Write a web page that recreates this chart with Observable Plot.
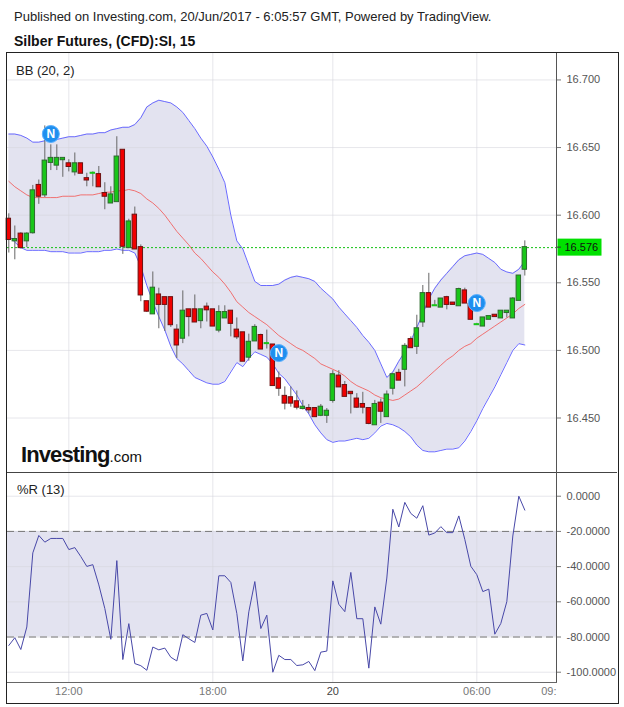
<!DOCTYPE html>
<html>
<head>
<meta charset="utf-8">
<script src="https://cdn.jsdelivr.net/npm/d3@7"></script>
<script src="https://cdn.jsdelivr.net/npm/@observablehq/plot@0.6"></script>
<style>
  body { margin: 0; background: #fff; font-family: "Liberation Sans", Arial, sans-serif; }
  #wrap { position: relative; width: 624px; height: 707px; overflow: hidden; background: #fff; }
  .abs { position: absolute; }
  .line { position: absolute; pointer-events: none; }
</style>
</head>
<body>
<div id="wrap"></div>
<script>
// ---- Data (15-minute candles, Silver futures, 19-20 June 2017) ----
const opens = [16.597,16.581,16.586,16.581,16.587,16.622,16.615,16.639,16.637,16.641,
  16.638,16.632,16.638,16.627,16.631,16.630,16.616,16.609,16.610,16.648,
  16.576,16.600,16.576,16.536,16.527,16.541,16.539,16.539,16.515,16.509,
  16.530,16.530,16.522,16.532,16.530,16.515,16.524,16.529,16.515,16.513,
  16.495,16.507,16.511,16.505,16.504,16.479,16.466,16.465,16.462,16.457,
  16.457,16.457,16.452,16.452,16.463,16.481,16.474,16.469,16.464,16.460,
  16.457,16.445,16.461,16.451,16.472,16.483,16.486,16.508,16.503,16.521,
  16.542,16.533,16.532,16.539,16.535,16.533,16.544,16.534,16.519,16.518,
  16.523,16.526,16.524,16.528,16.524,16.537,16.560];
const highs = [16.601,16.592,16.587,16.587,16.622,16.626,16.666,16.652,16.652,16.642,
  16.641,16.646,16.638,16.631,16.632,16.636,16.624,16.621,16.658,16.648,
  16.597,16.606,16.578,16.536,16.558,16.546,16.539,16.539,16.519,16.544,
  16.530,16.541,16.530,16.535,16.530,16.533,16.533,16.529,16.524,16.513,
  16.512,16.519,16.512,16.515,16.504,16.484,16.473,16.473,16.470,16.463,
  16.460,16.457,16.460,16.457,16.485,16.485,16.477,16.469,16.468,16.469,
  16.457,16.463,16.464,16.470,16.483,16.486,16.505,16.510,16.526,16.548,
  16.557,16.537,16.538,16.540,16.535,16.546,16.546,16.535,16.520,16.524,
  16.525,16.526,16.529,16.529,16.539,16.555,16.581];
const lows = [16.572,16.567,16.575,16.576,16.586,16.608,16.613,16.633,16.633,16.628,
  16.632,16.629,16.631,16.621,16.621,16.621,16.604,16.609,16.610,16.571,
  16.576,16.575,16.536,16.528,16.527,16.516,16.514,16.517,16.494,16.505,
  16.510,16.521,16.516,16.521,16.518,16.513,16.524,16.510,16.508,16.492,
  16.492,16.507,16.501,16.501,16.474,16.466,16.456,16.458,16.456,16.456,
  16.453,16.451,16.451,16.446,16.461,16.473,16.466,16.453,16.457,16.453,
  16.445,16.445,16.446,16.451,16.467,16.478,16.473,16.502,16.497,16.517,
  16.532,16.533,16.532,16.530,16.534,16.533,16.535,16.523,16.519,16.518,
  16.523,16.525,16.524,16.524,16.524,16.537,16.555];
const closes = [16.582,16.582,16.576,16.586,16.618,16.614,16.640,16.642,16.642,16.642,
  16.636,16.638,16.631,16.626,16.631,16.621,16.614,16.615,16.643,16.577,
  16.595,16.575,16.541,16.529,16.546,16.534,16.534,16.519,16.504,16.529,
  16.525,16.521,16.530,16.530,16.518,16.528,16.528,16.520,16.510,16.492,
  16.506,16.517,16.501,16.505,16.474,16.472,16.461,16.461,16.458,16.458,
  16.456,16.451,16.458,16.455,16.482,16.473,16.466,16.468,16.458,16.458,
  16.446,16.460,16.455,16.467,16.482,16.478,16.503,16.502,16.516,16.542,
  16.532,16.533,16.538,16.534,16.534,16.545,16.535,16.523,16.519,16.524,
  16.525,16.525,16.529,16.529,16.538,16.555,16.576];

// Bollinger Bands (20, 2)
const bbUpper = [16.660,16.660,16.659,16.657,16.654,16.654,16.655,16.656,16.656,16.657,
  16.658,16.658,16.659,16.660,16.660,16.661,16.661,16.663,16.664,16.665,
  16.665,16.667,16.672,16.680,16.683,16.685,16.684,16.683,16.680,16.676,
  16.670,16.664,16.657,16.651,16.643,16.634,16.624,16.600,16.581,16.575,
  16.563,16.551,16.548,16.548,16.548,16.549,16.552,16.554,16.555,16.554,
  16.553,16.551,16.546,16.542,16.538,16.532,16.527,16.522,16.517,16.511,
  16.506,16.500,16.490,16.480,16.484,16.492,16.499,16.507,16.517,16.527,
  16.538,16.546,16.552,16.557,16.562,16.567,16.570,16.571,16.572,16.571,
  16.568,16.565,16.560,16.558,16.557,16.560,16.566];
const bbMiddle = [16.625,16.621,16.618,16.615,16.613,16.613,16.613,16.613,16.613,16.614,
  16.614,16.614,16.615,16.615,16.615,16.616,16.617,16.617,16.618,16.618,
  16.619,16.618,16.616,16.612,16.609,16.605,16.600,16.594,16.588,16.583,
  16.578,16.572,16.568,16.563,16.558,16.554,16.549,16.543,16.536,16.532,
  16.528,16.525,16.522,16.519,16.515,16.511,16.508,16.505,16.502,16.500,
  16.497,16.494,16.490,16.488,16.486,16.484,16.481,16.477,16.474,16.472,
  16.470,16.467,16.465,16.464,16.463,16.464,16.467,16.470,16.473,16.477,
  16.481,16.485,16.489,16.493,16.496,16.500,16.503,16.505,16.509,16.512,
  16.515,16.518,16.521,16.524,16.527,16.531,16.534];
const bbLower = [16.585,16.580,16.576,16.574,16.574,16.574,16.574,16.573,16.573,16.573,
  16.572,16.572,16.572,16.573,16.573,16.573,16.574,16.574,16.575,16.574,
  16.574,16.572,16.562,16.548,16.536,16.525,16.515,16.503,16.494,16.490,
  16.485,16.480,16.478,16.476,16.475,16.475,16.477,16.484,16.491,16.488,
  16.494,16.499,16.497,16.495,16.490,16.483,16.479,16.473,16.467,16.459,
  16.453,16.445,16.439,16.434,16.432,16.433,16.433,16.434,16.435,16.434,
  16.435,16.439,16.444,16.446,16.445,16.443,16.440,16.436,16.430,16.426,
  16.425,16.425,16.426,16.427,16.427,16.428,16.433,16.440,16.448,16.457,
  16.465,16.473,16.482,16.491,16.500,16.505,16.504];

// Williams %R (13)
const williamsR = [-84.8,-80.4,-87.1,-74.3,-32.2,-22.3,-26.1,-24.0,-24.0,-24.0,
  -30.3,-29.2,-34.3,-39.9,-38.9,-50.4,-63.8,-81.3,-36.6,-92.8,
  -72.4,-95.1,-96.3,-98.9,-85.7,-87.3,-86.3,-91.5,-93.6,-78.7,
  -81.0,-83.1,-67.6,-66.6,-76.0,-45.2,-45.2,-49.0,-66.6,-93.6,
  -65.7,-48.5,-75.2,-67.6,-100.0,-90.4,-92.8,-92.8,-96.2,-95.8,
  -93.9,-99.1,-88.6,-88.0,-48.1,-61.4,-65.6,-43.3,-69.6,-69.6,
  -97.7,-62.9,-72.7,-46.5,-7.4,-17.5,-3.5,-9.8,-12.5,-5.4,
  -22.1,-20.9,-17.3,-20.7,-20.7,-11.2,-24.6,-39.8,-44.6,-54.2,
  -52.8,-78.4,-72.3,-59.9,-22.6,0.0,-7.9];

const timeTickIndex = [10, 34, 54, 78, 90];
const timeTickLabels = ["12:00", "18:00", "20", "06:00", "09:"];
const gridTimeIndex = [10, 34, 54, 78];
const priceTicks = [16.45, 16.50, 16.55, 16.60, 16.65, 16.70];
const wrTicks = [0, -20, -40, -60, -80, -100];
const wrLevels = [-20, -80];
const lastPrice = 16.576;
const newsIndex = [7, 45, 78];
const newsPrice = [16.660, 16.498, 16.535];

// ---- Build tables ----
const candles = opens.map((o, i) => ({
  i, open: o, high: highs[i], low: lows[i], close: closes[i],
  upper: bbUpper[i], middle: bbMiddle[i], lower: bbLower[i], wr: williamsR[i]
}));
const news = newsIndex.map((i, k) => ({i, price: newsPrice[k]}));
const timeTicks = timeTickIndex.map((i, k) => ({i, label: timeTickLabels[k]}));

const FONT = '"Liberation Sans", Arial, sans-serif';
const upFill = "#19c619", upStroke = "#2c6b2c";
const downFill = "#f00000", downStroke = "#6b1212";
const bandFill = "#e3e3f0";
const gridColor = "#d6d6de";
const xDomain = [-0.22, 91.28];

const wrap = document.getElementById("wrap");

function addDiv(css, text) {
  const d = document.createElement("div");
  d.className = "abs";
  d.style.cssText = css;
  if (text != null) d.textContent = text;
  wrap.appendChild(d);
  return d;
}

// Header texts
addDiv("left:14px;top:9px;font-size:13px;color:#222;white-space:nowrap;", "Published on Investing.com, 20/Jun/2017 - 6:05:57 GMT, Powered by TradingView.");
addDiv("left:14px;top:33px;font-size:14px;font-weight:bold;color:#111;white-space:nowrap;", "Silber Futures, (CFD):SI, 15");

// ---- Main price pane ----
const mainPlot = Plot.plot({
  width: 610, height: 420,
  marginLeft: 0, marginRight: 61, marginTop: 0, marginBottom: 0,
  x: {domain: xDomain, axis: null},
  y: {domain: [16.4097, 16.7203], axis: null, label: null},
  style: {fontFamily: FONT, fontSize: "11px", background: "transparent", color: "#555", overflow: "visible"},
  marks: [
    Plot.areaY(candles, {x: "i", y1: "lower", y2: "upper", fill: bandFill}),
    Plot.ruleY(priceTicks, {stroke: gridColor, strokeOpacity: 0.6}),
    Plot.ruleX(gridTimeIndex, {stroke: gridColor, strokeOpacity: 0.6}),
    Plot.line(candles, {x: "i", y: "upper", stroke: "#6a6aff", strokeWidth: 1}),
    Plot.line(candles, {x: "i", y: "lower", stroke: "#6a6aff", strokeWidth: 1}),
    Plot.line(candles, {x: "i", y: "middle", stroke: "#f07070", strokeWidth: 1}),
    Plot.ruleY([lastPrice], {stroke: "#10c010", strokeDasharray: "2,2", strokeWidth: 1}),
    Plot.ruleX(candles, {x: "i", y1: "low", y2: "high", stroke: "#666", strokeWidth: 1}),
    Plot.rect(candles, {
      x1: d => d.i - 0.37, x2: d => d.i + 0.37,
      y1: "open", y2: "close",
      fill: d => d.close >= d.open ? upFill : downFill,
      stroke: d => d.close === d.open ? upFill : (d.close > d.open ? upStroke : downStroke),
      strokeWidth: 1, insetTop: -0.5, insetBottom: -0.5
    }),
    Plot.axisY(priceTicks, {anchor: "right", label: null, tickSize: 4, tickPadding: 6, tickFormat: d3.format(".3f"), stroke: "#777", fill: "#555"}),
    Plot.dot(news, {x: "i", y: "price", r: 8.5, fill: "#1f8fef", stroke: "#5ab0ff", strokeWidth: 1}),
    Plot.text(news, {x: "i", y: "price", text: () => "N", fill: "white", fontWeight: "bold", fontSize: 12, dy: 0.5})
  ]
});
mainPlot.style.position = "absolute";
mainPlot.style.left = "7px";
mainPlot.style.top = "52px";
wrap.appendChild(mainPlot);

// Last-price label through the y scale
{
  const ys = mainPlot.scale("y");
  const yy = ys.apply(lastPrice);
  const svg = d3.select(mainPlot);
  const g = svg.append("g").attr("text-anchor", "start");
  g.append("rect").attr("x", 550.5).attr("y", yy - 8.5).attr("width", 44).attr("height", 17).attr("fill", "#00e000");
  g.append("line").attr("x1", 550).attr("x2", 554).attr("y1", yy).attr("y2", yy).attr("stroke", "#333");
  g.append("text").attr("x", 557.5).attr("y", yy).attr("dy", "0.36em").attr("text-anchor", "start")
    .attr("font-size", 11).attr("font-family", FONT).attr("fill", "#111").text(d3.format(".3f")(lastPrice));
}

// ---- Williams %R pane ----
const wrPlot = Plot.plot({
  width: 610, height: 231,
  marginLeft: 0, marginRight: 61, marginTop: 0, marginBottom: 21,
  x: {domain: xDomain, axis: null},
  y: {domain: [-105.85, 13.47], axis: null, label: null},
  style: {fontFamily: FONT, fontSize: "11px", background: "transparent", color: "#666", overflow: "visible"},
  marks: [
    Plot.rect([wrLevels], {y1: d => d[0], y2: d => d[1], fill: bandFill}),
    Plot.ruleY(wrTicks, {stroke: gridColor, strokeOpacity: 0.6}),
    Plot.ruleX(gridTimeIndex, {stroke: gridColor, strokeOpacity: 0.6}),
    Plot.ruleY(wrLevels, {stroke: "#777", strokeDasharray: "7,4", strokeWidth: 1}),
    Plot.line(candles, {x: "i", y: "wr", stroke: "#4848a8", strokeWidth: 1}),
    Plot.axisY(wrTicks, {anchor: "right", label: null, tickSize: 4, tickPadding: 6, tickFormat: d => d.toFixed(4), stroke: "#777", fill: "#555"}),
    Plot.text(timeTicks, {x: "i", frameAnchor: "bottom", dy: 12, text: "label",
      fontWeight: d => d.label === "20" ? "bold" : "normal",
      fill: d => d.label === "20" ? "#444" : "#777"})
  ]
});
wrPlot.style.position = "absolute";
wrPlot.style.left = "7px";
wrPlot.style.top = "472px";
wrap.appendChild(wrPlot);

// Pane labels
addDiv("left:16px;top:63px;font-size:13px;color:#222;white-space:nowrap;", "BB (20, 2)");
addDiv("left:17px;top:482px;font-size:13px;color:#222;white-space:nowrap;", "%R (13)");

// Investing.com logo
const logo = addDiv("left:21px;top:442px;white-space:nowrap;color:#111;line-height:26px;");
logo.innerHTML = '<span style="font-size:22px;font-weight:bold;letter-spacing:-0.9px;">Investing</span><span style="font-size:15px;">.com</span>';

// Frame and separators
function addLine(css) { const d = document.createElement("div"); d.className = "line"; d.style.cssText = css; wrap.appendChild(d); }
addLine("left:6px;top:52px;width:611px;height:650px;border:1px solid #222;");
addLine("left:7px;top:472px;width:610px;height:1px;background:#444;");
addLine("left:556px;top:53px;width:1px;height:630px;background:#555;");
addLine("left:7px;top:682px;width:550px;height:1px;background:#666;");
</script>
</body>
</html>
